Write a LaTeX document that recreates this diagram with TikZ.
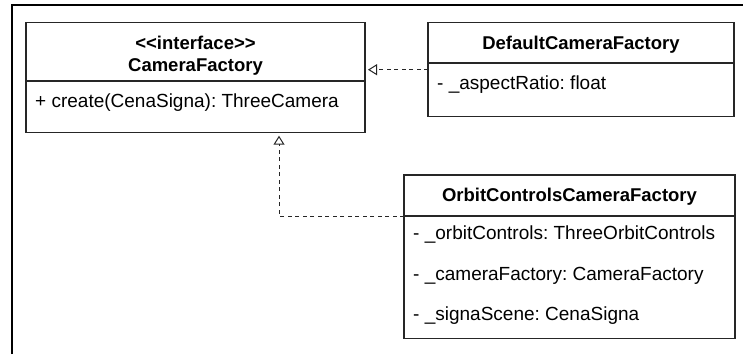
\documentclass[tikz,border=0pt]{standalone}
\usepackage{fontspec}
\setmainfont{Liberation Sans}
\usetikzlibrary{arrows.meta}
\begin{document}
\frenchspacing
\begin{tikzpicture}[x=1pt,y=-1pt,
  umlbox/.style={draw=black!85, line width=1.2pt, inner sep=0pt, outer sep=0pt, fill=white},
  ttl/.style={font=\fontsize{18.5}{21}\selectfont\bfseries, anchor=base, inner sep=0pt},
  attr/.style={font=\fontsize{19}{21}\selectfont, anchor=base west, inner sep=0pt},
  divline/.style={draw=black!85, line width=1.2pt},
  dep/.style={draw=black!85, line width=1pt, dash pattern=on 4pt off 3.5pt, -{Triangle[open, length=9pt, width=11pt, line width=1pt, sep=3pt]}}]
\useasboundingbox (0,0) rectangle (743,354);
% outer frame
\draw[line width=2pt] (12,354) -- (12,5) -- (743,5);
% CameraFactory
\node[umlbox, minimum width=339pt, minimum height=110pt] (cf) at (195.5,77.7) {};
\draw[divline] (cf.west |- 0,81) -- (cf.east |- 0,81);
\node[ttl] (cfs) at (195.5,49) {\symbol{60}\symbol{60}interface\symbol{62}\symbol{62}};
\node[ttl] (cft) at (195.5,71) {CameraFactory};
\node[attr] (cfm) at (35,107) {+ create(CenaSigna): ThreeCamera};
% DefaultCameraFactory
\node[umlbox, minimum width=306pt, minimum height=94pt] (dcf) at (581,69.7) {};
\draw[divline] (dcf.west |- 0,63) -- (dcf.east |- 0,63);
\node[ttl] (dcft) at (581,49) {DefaultCameraFactory};
\node[attr] (dcfa) at (437,89) {- \_aspectRatio: float};
% OrbitControlsCameraFactory
\node[umlbox, minimum width=331pt, minimum height=163.3pt] (oc) at (569.5,256.7) {};
\draw[divline] (oc.west |- 0,216) -- (oc.east |- 0,216);
\node[ttl] (oct) at (569.5,201) {OrbitControlsCameraFactory};
\node[attr] (oca) at (413,239.3) {- \_orbitControls: ThreeOrbitControls};
\node[attr] (ocb) at (413,280.7) {- \_cameraFactory: CameraFactory};
\node[attr] (occ) at (413,320.7) {- \_signaScene: CenaSigna};
% connectors
\draw[dep] (dcf.west) -- (cf.east |- dcf.west);
\path (279,0) coordinate (vx) (0,216) coordinate (hy);
\coordinate (ocl) at (oc.west |- hy);
\coordinate (cfb) at (cf.south -| vx);
\draw[dep] (ocl) -| (cfb);
\end{tikzpicture}
\end{document}
